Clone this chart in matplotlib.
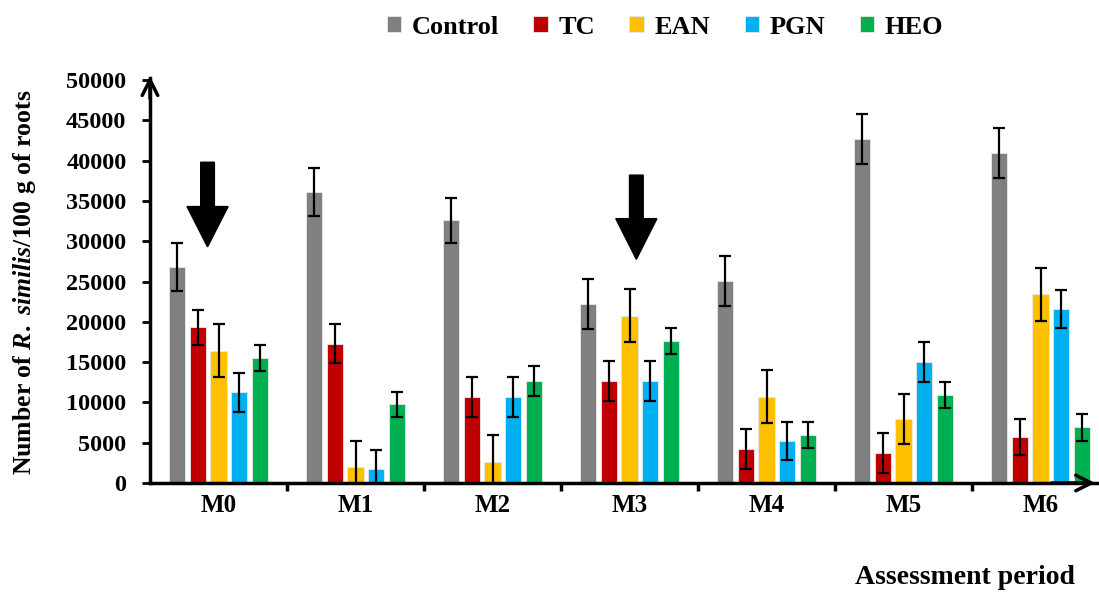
import matplotlib.pyplot as plt
from matplotlib.patches import Polygon
import numpy as np

plt.rcParams['font.family'] = ['Liberation Serif', 'DejaVu Serif']
plt.rcParams['font.weight'] = 'bold'
plt.rcParams['mathtext.fontset'] = 'custom'
plt.rcParams['mathtext.it'] = 'Liberation Serif:bold:italic'
plt.rcParams['mathtext.rm'] = 'Liberation Serif:bold'

# data
periods = ['M0', 'M1', 'M2', 'M3', 'M4', 'M5', 'M6']
series = ['Control', 'TC', 'EAN', 'PGN', 'HEO']
control = [26800, 36100, 32600, 22200, 25100, 42700, 41000]
control_err = [3000, 3000, 2800, 3100, 3100, 3100, 3100]
tc = [19300, 17300, 10700, 12650, 4250, 3700, 5700]
tc_err = [2200, 2400, 2500, 2500, 2500, 2500, 2200]
ean = [16400, 1950, 2600, 20750, 10700, 8000, 23400]
ean_err = [3300, 3300, 3300, 3300, 3300, 3100, 3300]
pgn = [11250, 1700, 10700, 12650, 5200, 15000, 21600]
pgn_err = [2400, 2400, 2500, 2500, 2400, 2500, 2400]
heo = [15500, 9750, 12650, 17600, 6000, 10950, 6900]
heo_err = [1600, 1600, 1900, 1600, 1600, 1600, 1650]
colors = ['#808080', '#C00000', '#FFC000', '#00B0F0', '#00B050']

fig = plt.figure(figsize=(10.99, 5.94), dpi=100)
ax = fig.add_axes([150/1099, 1 - 483/594, 949/1099, 405/594])

x = np.arange(len(periods))
step = 0.153
width = 0.117
values = [control, tc, ean, pgn, heo]
errors = [control_err, tc_err, ean_err, pgn_err, heo_err]
for i, (name, v, e, c) in enumerate(zip(series, values, errors, colors)):
    ax.bar(x + (i - 2) * step, v, width, color=c, edgecolor='#e8e8e8',
           linewidth=0.6, label=name, zorder=2)
    ax.errorbar(x + (i - 2) * step, v, yerr=e, fmt='none', ecolor='black',
                elinewidth=1.6, capsize=4.5, capthick=1.6, zorder=3)

ax.set_xlim(-0.5, -0.5 + 949/137)
ax.set_ylim(0, 50250)
ax.set_yticks(np.arange(0, 50001, 5000))
ax.set_xticks(x)
ax.set_xticklabels(periods, fontsize=18, fontweight='bold')
ax.set_xticks(np.arange(0.5, 6, 1), minor=True)
ax.tick_params(axis='x', which='major', length=0, pad=8)
ax.tick_params(axis='x', which='minor', length=6, width=2.5, direction='out')
ax.tick_params(axis='y', length=6, width=2, direction='out', pad=11, labelsize=17.5)
for lab in ax.get_yticklabels():
    lab.set_fontweight('bold')

for s in ['top', 'right']:
    ax.spines[s].set_visible(False)
ax.spines['left'].set_linewidth(2.5)
ax.spines['bottom'].set_linewidth(2.5)

# axis arrow heads
ax.annotate('', xy=(0, 1.005), xytext=(0, 0.95), xycoords='axes fraction',
            arrowprops=dict(arrowstyle='->', lw=2.5, mutation_scale=28,
                            shrinkA=0, shrinkB=0), annotation_clip=False)
ax.annotate('', xy=(0.996, 0), xytext=(0.95, 0), xycoords='axes fraction',
            arrowprops=dict(arrowstyle='->', lw=2.5, mutation_scale=28,
                            shrinkA=0, shrinkB=0), annotation_clip=False)

# big down arrows marking treatments
def down_arrow(xc, y_top, y_head, y_tip):
    sw, hw = 0.05, 0.15
    pts = [(xc - sw, y_top), (xc + sw, y_top), (xc + sw, y_head),
           (xc + hw, y_head), (xc, y_tip), (xc - hw, y_head), (xc - sw, y_head)]
    ax.add_patch(Polygon(pts, closed=True, color='black', zorder=4))

down_arrow(-0.08, 39800, 34300, 29300)
down_arrow(3.05, 38200, 32800, 27750)

ax.set_ylabel(r'Number of $\mathit{R.\ similis}$/100 g of roots',
              fontsize=18.5, fontweight='bold')
ax.yaxis.set_label_coords(-0.118, 0.495)
fig.text(1075/1099, 1 - 578/594, 'Assessment period', ha='right',
         va='center', fontsize=20, fontweight='bold')

fig.legend(loc='center', bbox_to_anchor=(665/1099, 1 - 27/594), ncol=5,
           frameon=False, prop={'weight': 'bold', 'size': 19},
           handlelength=0.55, handleheight=0.55, handletextpad=0.4,
           columnspacing=1.3)

fig.savefig('out.png', dpi=100)
